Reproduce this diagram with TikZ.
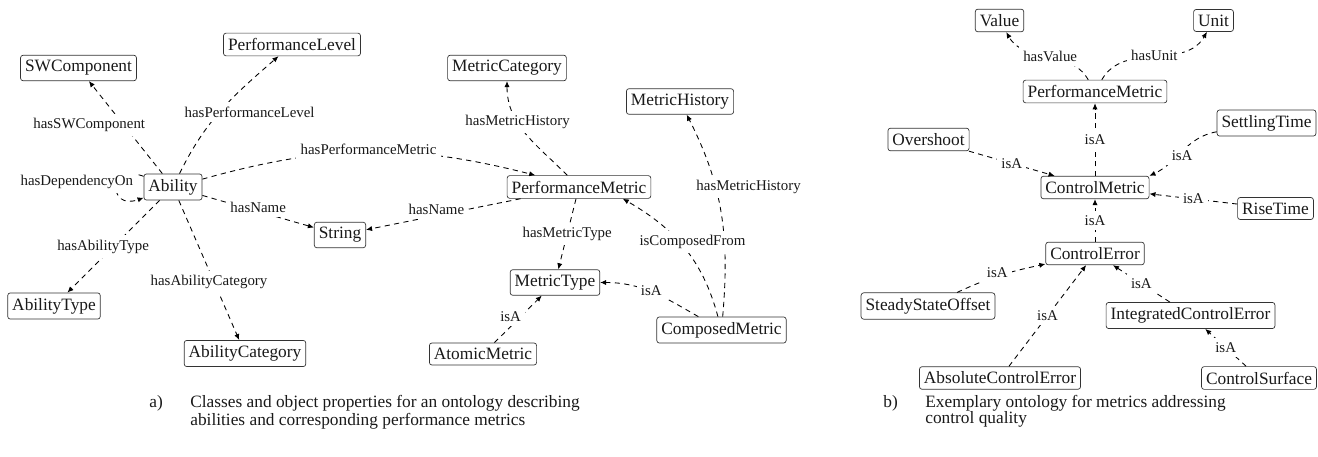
\documentclass[tikz,border=0pt]{standalone}
\usepackage{fontspec}
\setmainfont{Liberation Serif}
\usetikzlibrary{arrows.meta}

\begin{document}
\begin{tikzpicture}[x=0.577pt, y=-0.577pt,
  class node/.style={draw=black!80, rounded corners=1.5pt, inner xsep=2.6pt, inner ysep=3pt, text=black!90},
  prop/.style={dash pattern=on 3pt off 2.5pt, line width=0.5pt, -{Latex[length=3.5pt,width=3pt]}},
  prop label/.style={fill=white, inner sep=2.5pt, text=black!90, font=\fontsize{8.6}{10}\selectfont},
  caption/.style={inner sep=0pt, text=black!90}]
  \useasboundingbox (0,0) rectangle (1318,457);
  % a) abilities and performance metrics
  \node[class node] (1) at (78.5,68) {SWComponent};
  \node[class node] (2) at (292,44.5) {PerformanceLevel};
  \node[class node] (3) at (173,187) {Ability};
  \node[class node] (4) at (340,235) {String};
  \node[class node] (5) at (54,306) {AbilityType};
  \node[class node] (6) at (245,353.5) {AbilityCategory};
  \node[class node] (7) at (507,68) {MetricCategory};
  \node[class node] (8) at (579,187) {PerformanceMetric};
  \node[class node] (9) at (680,101.5) {MetricHistory};
  \node[class node] (10) at (555,282.5) {MetricType};
  \node[class node] (11) at (483,354) {AtomicMetric};
  \node[class node] (12) at (721.5,330) {ComposedMetric};
  \path[prop, every node/.style={prop label}]
   (3) edge node[xshift=-21pt, yshift=1.5pt]{hasSWComponent} (1)
   (3) edge[out=64, in=221] node[xshift=16pt, yshift=-1.5pt]{hasPerformanceLevel} (2)
   (3) edge[bend left=15] node[yshift=1.5pt]{hasPerformanceMetric} (8)
   (3) edge node[yshift=2.6pt]{hasName} (4)
   (3) edge[out=160, in=200, min distance=22pt, looseness=1] node[xshift=-23pt, yshift=3pt]{hasDependencyOn} (3)
   (3) edge node[xshift=-6pt]{hasAbilityType} (5)
   (3) edge node[yshift=-7pt]{hasAbilityCategory} (6)
   (8) edge[out=135, in=-90] node[xshift=-4.6pt, yshift=6.3pt]{hasMetricHistory} (7)
   (8) edge node[xshift=-4pt, yshift=2.9pt]{hasName} (4)
   (8) edge node{hasMetricType} (10)
   (11) edge node[xshift=-4.3pt, yshift=1.2pt]{isA} (10)
   (12) edge[out=150, in=0] node[yshift=1pt]{isA} (10)
   (12) edge[out=85, in=-63] node[pos=.65, xshift=19.6pt, yshift=-1.6pt]{hasMetricHistory} (9)
   (12) edge[out=105, in=-30] node[xshift=5pt, yshift=3pt]{isComposedFrom} (8.-15);
  % b) control quality metrics
  \node[class node] (13) at (999.5,20.5) {Value};
  \node[class node] (14) at (1213.5,20.5) {Unit};
  \node[class node] (15) at (1095,91.5) {PerformanceMetric};
  \node[class node] (16) at (928.5,139.5) {Overshoot};
  \node[class node] (17) at (1266.5,123) {SettlingTime};
  \node[class node] (18) at (1095,187.5) {ControlMetric};
  \node[class node] (19) at (1275.5,208.5) {RiseTime};
  \node[class node] (20) at (1095,253.5) {ControlError};
  \node[class node] (21) at (928,306) {SteadyStateOffset};
  \node[class node] (22) at (1190.5,315.5) {IntegratedControlError};
  \node[class node] (23) at (1000,378) {AbsoluteControlError};
  \node[class node] (24) at (1259,378) {ControlSurface};
  \path[prop, every node/.style={prop label}]
   (15) edge[out=120, in=-60] node[xshift=1.7pt]{hasValue} (13)
   (15) edge[out=60, in=-120] node{hasUnit} (14)
   (18) edge node{isA} (15)
   (16) edge node{isA} (18)
   (17) edge[out=190, in=25] node[yshift=-2.5pt]{isA} (18.north east)
   (19) edge node{isA} (18)
   (20) edge node{isA} (18)
   (21) edge[out=25, in=192] node[xshift=-1.7pt, yshift=1.4pt]{isA} (20)
   (23) edge node{isA} (20)
   (22) edge node{isA} (20)
   (24) edge node{isA} (22);
  % captions
  \node[caption, anchor=base west] (25) at (149,407) {a)};
  \node[caption, anchor=north west, align=left, font=\fontsize{10}{9.1}\selectfont] (26) at (190,395)
   {Classes and object properties for an ontology describing\\abilities and corresponding performance metrics};
  \node[caption, anchor=base west] (27) at (883,407) {b)};
  \node[caption, anchor=north west, align=left, font=\fontsize{10}{9.1}\selectfont] (28) at (925,395)
   {Exemplary ontology for metrics addressing\\control quality};
\end{tikzpicture}
\end{document}
